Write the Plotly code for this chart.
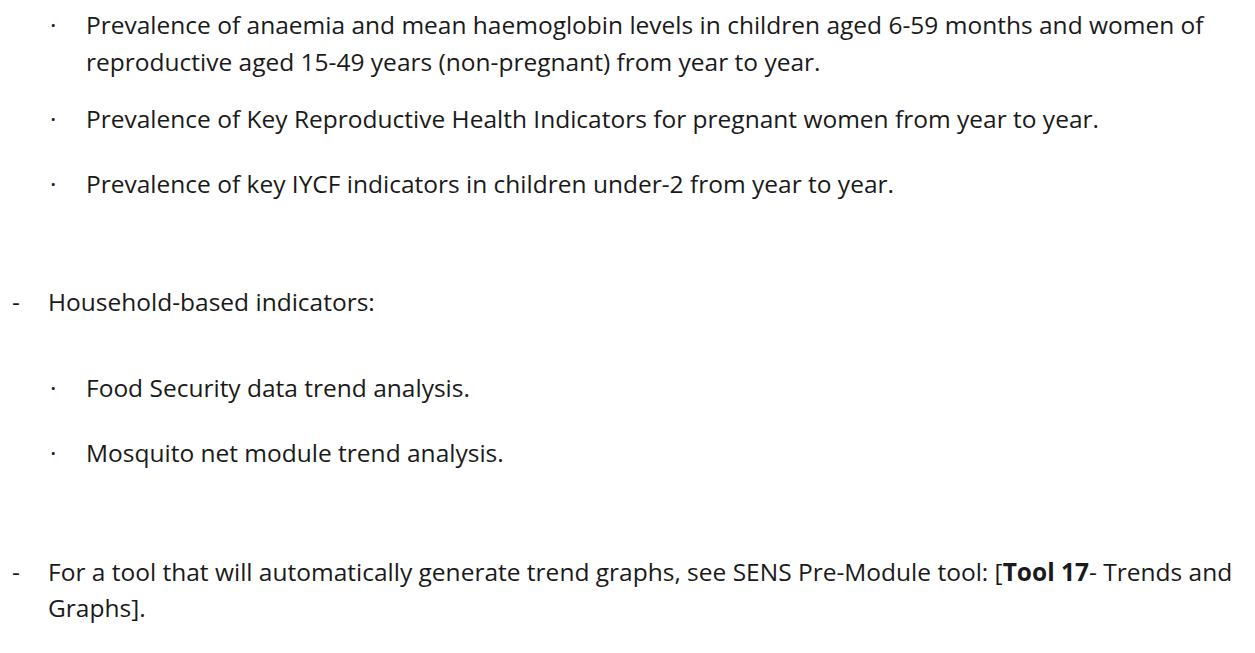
import plotly.graph_objects as go

# Text content
bullet_items_1 = [
    "Prevalence of anaemia and mean haemoglobin levels in children aged 6-59 months and women of",
    "reproductive aged 15-49 years (non-pregnant) from year to year.",
    "Prevalence of Key Reproductive Health Indicators for pregnant women from year to year.",
    "Prevalence of key IYCF indicators in children under-2 from year to year.",
]
heading_household = "Household-based indicators:"
bullet_items_2 = [
    "Food Security data trend analysis.",
    "Mosquito net module trend analysis.",
]
tool_note = [
    "For a tool that will automatically generate trend graphs, see SENS Pre-Module tool: [<b>Tool 17</b>- Trends and",
    "Graphs].",
]

W, H = 1255, 653
FONT = dict(family="'Open Sans', sans-serif", size=24.5, color="#1a1a1a")

fig = go.Figure()
fig.update_xaxes(visible=False, range=[0, W])
fig.update_yaxes(visible=False, range=[H, 0])


def add(text, x, y):
    fig.add_annotation(text=text, x=x, y=y, xref="x", yref="y",
                       xanchor="left", yanchor="middle", showarrow=False,
                       font=FONT, align="left")

# bullet sub-items block 1
y_b1 = [24, 61, 118, 183]
for i, (t, y) in enumerate(zip(bullet_items_1, y_b1)):
    if i != 1:
        add("·", 48, y)
    add(t, 84, y)

add("-", 10, 301)
add(heading_household, 46, 301)

for t, y in zip(bullet_items_2, [387, 452]):
    add("·", 48, y)
    add(t, 84, y)

add("-", 10, 571)
add(tool_note[0], 46, 571)
add(tool_note[1], 46, 607)

fig.update_layout(width=W, height=H, margin=dict(l=0, r=0, t=0, b=0),
                  plot_bgcolor="white", paper_bgcolor="white", showlegend=False)

fig.write_html("out.html", config={"displayModeBar": False},
               post_script="document.body.style.margin='0';")
